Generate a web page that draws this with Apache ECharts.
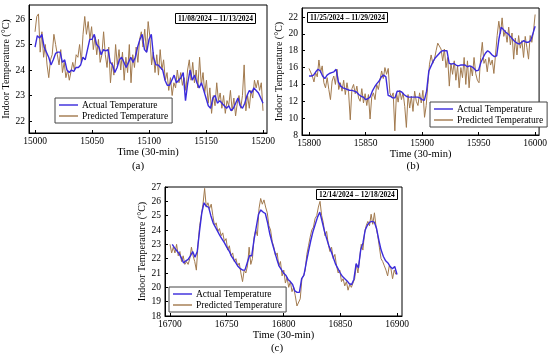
<!DOCTYPE html>
<html><head><meta charset="utf-8">
<script src="https://cdn.jsdelivr.net/npm/echarts@6/dist/echarts.min.js"></script>
<style>html,body{margin:0;padding:0;background:#fff}#c{width:550px;height:358px}</style>
</head><body><div id="c"></div>
<script>
const seriesNames = ['Actual Temperature', 'Predicted Temperature'];
const dateLabels = ['11/08/2024 – 11/13/2024', '11/25/2024 – 11/29/2024', '12/14/2024 – 12/18/2024'];
const panelLabels = ['(a)', '(b)', '(c)'];
const xTitle = 'Time (30-min)';
const yTitle = 'Indoor Temperature (°C)';

const xTicksA = [15000, 15050, 15100, 15150, 15200];
const yTicksA = [22, 23, 24, 25, 26];
const xTicksB = [15800, 15850, 15900, 15950, 16000];
const yTicksB = [8, 10, 12, 14, 16, 18, 20, 22];
const xTicksC = [16700, 16750, 16800, 16850, 16900];
const yTicksC = [18, 19, 20, 21, 22, 23, 24, 25, 26, 27];

// Panel (a): actual, time 15000..15200 every 2 steps
const actualARange = [15000, 15200];
const actualA = [24.9,25.35,25.25,25.4,24.9,24.7,24.5,24.2,24.4,24.65,24.7,24.7,24.3,24.4,24.0,23.9,24.0,23.95,24.1,24.1,
24.2,24.5,24.4,24.8,25.2,25.2,25.4,25.0,24.9,24.6,24.8,24.75,24.8,24.3,24.2,23.9,24.1,24.4,24.5,24.3,
24.1,24.3,24.5,24.3,24.5,24.9,25.2,25.4,24.8,24.7,25.2,25.4,24.5,24.2,24.2,24.1,24.0,23.6,23.4,23.4,
23.6,23.8,23.5,23.6,23.7,23.9,22.8,23.5,24.0,23.6,23.8,23.5,23.3,23.5,23.2,22.9,22.6,22.5,22.9,23.0,
22.7,22.8,22.7,22.6,22.5,22.6,22.4,22.5,22.7,22.9,22.6,22.5,22.7,23.0,23.2,23.1,23.3,23.2,23.1,22.9,22.7];
const predARange = [15000, 15200];
const predA = [25.5,26.1,26.2,24.7,25.5,24.5,25.0,24.2,23.7,24.4,24.6,25.4,25.0,24.6,24.2,24.8,23.9,24.3,23.7,24.0,
23.6,23.6,24.3,24.0,24.6,24.5,25.0,24.3,25.4,26.1,25.4,25.9,25.2,25.7,24.8,25.3,24.6,25.2,24.3,24.6,
25.5,24.6,24.1,24.9,23.5,24.3,23.8,25.0,24.2,24.8,24.0,24.7,23.6,24.5,23.9,25.0,23.5,24.6,24.1,24.9,
24.3,25.2,25.5,24.9,25.6,24.7,25.9,25.3,24.2,24.7,23.9,24.6,23.8,24.8,24.0,24.4,23.6,23.9,23.2,23.7,
23.0,23.5,23.3,24.0,23.5,23.9,23.4,23.7,23.2,24.0,24.4,23.6,24.3,23.5,24.0,23.3,24.5,23.4,23.9,23.1,
23.6,22.7,23.3,22.3,23.0,22.6,23.5,22.8,23.1,22.5,23.0,22.3,22.8,22.6,23.2,22.4,22.9,22.2,22.7,23.0,
22.5,23.0,24.2,22.4,23.0,22.5,23.2,22.9,23.6,23.3,23.6,23.2,23.5,22.4];

// Panel (b)
const actualBRange = [15800, 16000];
const actualB = [15.0,15.0,15.1,15.5,15.8,15.6,15.0,14.7,15.1,15.3,15.4,15.5,15.8,14.3,13.8,13.6,13.5,13.4,13.3,13.3,
13.2,13.1,12.8,12.6,12.5,12.2,12.3,12.5,13.2,13.7,14.1,14.4,14.9,15.1,14.9,12.7,12.6,12.4,12.4,13.2,
13.2,13.1,12.8,12.6,12.5,12.5,12.5,12.5,12.5,12.4,12.2,12.1,13.2,15.6,16.2,16.8,17.2,17.5,17.8,18.0,
18.0,18.0,16.5,16.4,16.5,16.3,16.2,16.3,16.3,16.3,16.1,16.2,16.1,15.9,15.6,15.7,16.6,17.2,17.7,18.0,
17.8,17.5,17.3,17.4,19.4,20.8,20.5,20.2,20.0,19.7,19.4,19.1,18.9,18.8,19.0,19.2,19.0,19.0,19.2,20.0,20.9];
const predBRange = [15800, 16000];
const predB = [15.9,16.1,15.0,14.3,15.4,14.9,16.9,15.4,16.2,14.2,13.6,14.8,13.4,12.2,14.4,15.0,14.0,15.8,13.4,14.2,
13.2,14.5,12.8,14.2,13.0,9.8,13.5,14.0,12.9,13.8,12.4,12.0,13.5,11.8,12.9,11.5,12.8,9.9,12.5,13.0,
12.2,14.0,13.4,14.5,15.6,14.7,16.0,15.2,15.9,13.0,12.5,13.0,8.5,13.0,11.9,13.3,12.2,13.0,11.4,8.9,
12.8,11.2,12.6,10.8,13.2,12.0,11.5,13.0,11.8,13.3,10.1,11.5,14.0,16.4,17.5,16.5,17.0,18.0,18.9,18.9,
18.2,16.8,18.2,16.0,17.2,13.8,16.5,15.2,16.8,14.5,16.2,13.6,16.0,14.8,17.2,14.0,16.8,13.6,16.2,15.0,
17.2,15.3,14.5,14.2,17.2,19.0,16.5,17.0,15.5,17.2,16.3,16.9,15.3,17.5,19.8,21.5,20.0,21.9,19.7,20.4,
19.0,20.8,18.7,20.1,17.0,19.5,17.5,19.8,18.3,19.2,17.2,19.7,18.4,17.0,19.8,19.0,20.3,22.3];

// Panel (c)
const actualCRange = [16702, 16900];
const actualC = [23.0,22.75,22.55,22.35,22.05,21.7,21.85,21.95,22.2,22.5,22.1,22.5,23.9,25.2,25.9,25.65,25.6,25.0,24.5,24.2,
23.9,23.6,23.35,23.1,22.8,22.55,22.2,21.95,21.7,21.45,21.3,21.2,21.2,21.7,22.2,22.2,23.3,24.2,25.1,25.4,
25.25,25.15,24.5,23.7,23.1,22.55,22.0,21.5,21.25,21.0,20.85,20.55,20.4,20.2,19.75,19.65,19.65,20.6,20.85,21.7,
22.5,23.25,23.9,24.4,24.9,25.25,24.6,23.95,23.4,22.9,22.5,22.05,21.6,21.3,21.0,20.75,20.6,20.45,20.25,20.2,
20.55,21.65,21.35,22.6,23.1,24.0,24.35,24.55,24.6,24.55,24.1,23.3,22.6,22.15,21.85,21.7,21.45,21.3,21.45,20.9];
const predCRange = [16700, 16899];
const predC = [23.0,22.4,22.8,22.4,23.0,22.2,22.5,21.8,22.2,21.6,21.8,21.6,22.0,22.8,22.2,21.8,21.2,23.0,24.3,25.0,
25.8,26.9,25.6,25.9,25.5,25.8,25.0,24.3,24.5,23.9,24.1,23.6,23.8,23.2,23.4,22.6,22.9,22.2,22.4,21.8,
22.0,21.5,21.7,21.0,20.4,21.2,21.0,21.5,22.8,21.6,22.0,23.5,24.0,23.6,25.5,26.2,25.8,26.1,25.6,25.2,
24.3,24.0,23.2,22.8,22.2,22.4,21.5,21.8,20.8,21.2,20.3,20.7,20.0,20.4,19.7,20.0,19.4,18.7,18.6,19.2,
20.6,20.8,21.2,22.3,22.9,23.5,24.0,24.2,24.8,25.0,25.6,26.0,25.0,24.5,23.6,23.9,23.0,22.5,22.8,22.0,
22.3,21.5,21.0,21.2,20.4,20.6,20.1,20.4,19.8,20.2,20.0,19.9,20.6,21.6,21.0,22.0,23.0,22.6,23.8,24.3,
24.6,24.3,25.1,24.4,25.2,24.2,23.6,22.8,22.0,21.8,21.5,21.2,20.8,21.5,21.3,20.6,21.2,20.9];

function toPairs(vals, range) {
  const n = vals.length;
  return vals.map((v, i) => [range[0] + i * (range[1] - range[0]) / (n - 1), v]);
}

const FONT = 'Liberation Serif';
const BLUE = '#3b2bdc';
const BROWN = '#a27a4e';

const panels = [
  {grid: {left: 29, top: 5, width: 238, height: 128}, x: [14994.7, 15203.5], y: [21.53, 26.55], xt: xTicksA, yt: yTicksA,
   act: toPairs(actualA, actualARange), pred: toPairs(predA, predARange), xGap: 12, xMargin: 3, yGap: 14},
  {grid: {left: 302, top: 8, width: 238, height: 127}, x: [15793.8, 16003.5], y: [8, 23.07], xt: xTicksB, yt: yTicksB,
   act: toPairs(actualB, actualBRange), pred: toPairs(predB, predBRange), xGap: 10, xMargin: 3, yGap: 14},
  {grid: {left: 165, top: 187, width: 237, height: 129}, x: [16695.6, 16904.4], y: [18, 27], xt: xTicksC, yt: yTicksC,
   act: toPairs(actualC, actualCRange), pred: toPairs(predC, predCRange), xGap: 10, xMargin: 3, yGap: 14}
];

const legendPos = [{left: 55, top: 98}, {left: 430, top: 102}, {left: 169, top: 287}];
const datePos = [{left: 175, top: 13}, {left: 307, top: 12}, {left: 316, top: 189}];
const labelPos = [[138, 166], [413, 166], [277, 348]];

const lineIcon = 'path://M0,0 L40,0 L40,3 L0,3 Z';

const option = {
  animation: false,
  backgroundColor: '#fff',
  grid: panels.map(p => Object.assign({show: true, borderColor: '#000', borderWidth: 1, containLabel: false}, p.grid)),
  xAxis: panels.map((p, i) => ({
    type: 'value', gridIndex: i, min: p.x[0], max: p.x[1],
    axisLine: {show: true, onZero: false, lineStyle: {color: '#000', width: 1}},
    axisTick: {show: true, inside: true, length: 3, customValues: p.xt, lineStyle: {color: '#000'}},
    axisLabel: {customValues: p.xt, color: '#000', fontFamily: FONT, fontSize: 9.5, margin: p.xMargin,
      formatter: v => String(Math.round(v))},
    splitLine: {show: false},
    name: xTitle, nameLocation: 'middle', nameGap: p.xGap,
    nameTextStyle: {color: '#000', fontFamily: FONT, fontSize: 10.5}
  })),
  yAxis: panels.map((p, i) => ({
    type: 'value', gridIndex: i, min: p.y[0], max: p.y[1],
    axisLine: {show: true, onZero: false, lineStyle: {color: '#000', width: 1}},
    axisTick: {show: true, inside: true, length: 3, customValues: p.yt, lineStyle: {color: '#000'}},
    axisLabel: {customValues: p.yt, color: '#000', fontFamily: FONT, fontSize: 9.5, margin: 4,
      formatter: v => String(Math.round(v))},
    splitLine: {show: false},
    name: yTitle, nameLocation: 'middle', nameRotate: 90, nameGap: p.yGap,
    nameTextStyle: {color: '#000', fontFamily: FONT, fontSize: 10}
  })),
  legend: legendPos.map(lp => ({
    left: lp.left, top: lp.top, orient: 'vertical', data: seriesNames,
    borderColor: '#444', borderWidth: 1, padding: [2, 4, 2, 4], itemGap: 1,
    itemWidth: 19, itemHeight: 2, backgroundColor: '#fff', icon: lineIcon,
    textStyle: {fontFamily: FONT, fontSize: 9.5, color: '#000', lineHeight: 10, padding: [0, 0, 0, -1]},
    selectedMode: false
  })),
  title: datePos.map((dp, i) => ({
    text: dateLabels[i], left: dp.left, top: dp.top,
    borderColor: '#000', borderWidth: 1, padding: [2, 3, 1, 3], backgroundColor: '#fff',
    textStyle: {fontFamily: FONT, fontSize: 7.5, fontWeight: 'bold', color: '#000'}
  })),
  graphic: labelPos.map((lp, i) => ({
    type: 'text', x: lp[0], y: lp[1],
    style: {text: panelLabels[i], textAlign: 'center', textVerticalAlign: 'middle',
      font: '11px "Liberation Serif"', fill: '#000'}
  })),
  series: []
};

panels.forEach((p, i) => {
  option.series.push({
    name: seriesNames[1], type: 'line', xAxisIndex: i, yAxisIndex: i, data: p.pred,
    symbol: 'none', showSymbol: false, z: 2,
    lineStyle: {color: BROWN, width: 1}, itemStyle: {color: BROWN}
  });
  option.series.push({
    name: seriesNames[0], type: 'line', xAxisIndex: i, yAxisIndex: i, data: p.act,
    symbol: 'none', showSymbol: false, z: 3,
    lineStyle: {color: BLUE, width: 1.4}, itemStyle: {color: BLUE}
  });
});

const chart = echarts.init(document.getElementById('c'), null, {renderer: 'canvas'});
chart.setOption(option);
</script>
</body></html>
